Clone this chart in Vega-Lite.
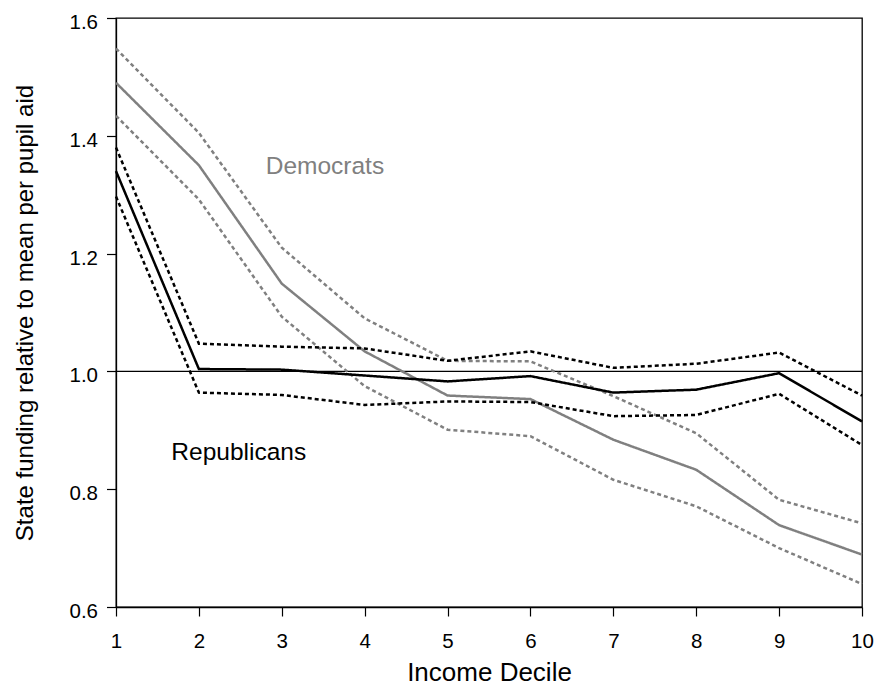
{
  "$schema": "https://vega.github.io/schema/vega-lite/v6.json",
  "width": 746,
  "height": 589,
  "autosize": {"type": "none"},
  "padding": {"left": 116, "top": 18, "right": 13, "bottom": 78},
  "background": "white",
  "config": {
    "font": "Liberation Sans",
    "view": {"stroke": "black", "strokeWidth": 1.3},
    "axis": {
      "grid": false,
      "domainColor": "black",
      "domainWidth": 1.3,
      "tickColor": "black",
      "tickWidth": 1.2,
      "tickSize": 9,
      "labelColor": "black",
      "titleColor": "black",
      "labelFont": "Liberation Sans",
      "titleFont": "Liberation Sans",
      "titleFontWeight": "normal",
      "labelFontSize": 20.5,
      "titleFontSize": 24
    }
  },
  "data": {
    "values": [
      {"decile": 1, "party": "Democrats", "series": "estimate", "value": 1.490},
      {"decile": 2, "party": "Democrats", "series": "estimate", "value": 1.350},
      {"decile": 3, "party": "Democrats", "series": "estimate", "value": 1.149},
      {"decile": 4, "party": "Democrats", "series": "estimate", "value": 1.034},
      {"decile": 5, "party": "Democrats", "series": "estimate", "value": 0.959},
      {"decile": 6, "party": "Democrats", "series": "estimate", "value": 0.953},
      {"decile": 7, "party": "Democrats", "series": "estimate", "value": 0.884},
      {"decile": 8, "party": "Democrats", "series": "estimate", "value": 0.833},
      {"decile": 9, "party": "Democrats", "series": "estimate", "value": 0.739},
      {"decile": 10, "party": "Democrats", "series": "estimate", "value": 0.689},
      {"decile": 1, "party": "Democrats", "series": "upper", "value": 1.548},
      {"decile": 2, "party": "Democrats", "series": "upper", "value": 1.405},
      {"decile": 3, "party": "Democrats", "series": "upper", "value": 1.210},
      {"decile": 4, "party": "Democrats", "series": "upper", "value": 1.090},
      {"decile": 5, "party": "Democrats", "series": "upper", "value": 1.018},
      {"decile": 6, "party": "Democrats", "series": "upper", "value": 1.017},
      {"decile": 7, "party": "Democrats", "series": "upper", "value": 0.958},
      {"decile": 8, "party": "Democrats", "series": "upper", "value": 0.895},
      {"decile": 9, "party": "Democrats", "series": "upper", "value": 0.782},
      {"decile": 10, "party": "Democrats", "series": "upper", "value": 0.742},
      {"decile": 1, "party": "Democrats", "series": "lower", "value": 1.434},
      {"decile": 2, "party": "Democrats", "series": "lower", "value": 1.292},
      {"decile": 3, "party": "Democrats", "series": "lower", "value": 1.093},
      {"decile": 4, "party": "Democrats", "series": "lower", "value": 0.975},
      {"decile": 5, "party": "Democrats", "series": "lower", "value": 0.901},
      {"decile": 6, "party": "Democrats", "series": "lower", "value": 0.890},
      {"decile": 7, "party": "Democrats", "series": "lower", "value": 0.816},
      {"decile": 8, "party": "Democrats", "series": "lower", "value": 0.771},
      {"decile": 9, "party": "Democrats", "series": "lower", "value": 0.700},
      {"decile": 10, "party": "Democrats", "series": "lower", "value": 0.639},
      {"decile": 1, "party": "Republicans", "series": "estimate", "value": 1.340},
      {"decile": 2, "party": "Republicans", "series": "estimate", "value": 1.004},
      {"decile": 3, "party": "Republicans", "series": "estimate", "value": 1.003},
      {"decile": 4, "party": "Republicans", "series": "estimate", "value": 0.993},
      {"decile": 5, "party": "Republicans", "series": "estimate", "value": 0.983},
      {"decile": 6, "party": "Republicans", "series": "estimate", "value": 0.992},
      {"decile": 7, "party": "Republicans", "series": "estimate", "value": 0.964},
      {"decile": 8, "party": "Republicans", "series": "estimate", "value": 0.969},
      {"decile": 9, "party": "Republicans", "series": "estimate", "value": 0.997},
      {"decile": 10, "party": "Republicans", "series": "estimate", "value": 0.915},
      {"decile": 1, "party": "Republicans", "series": "upper", "value": 1.380},
      {"decile": 2, "party": "Republicans", "series": "upper", "value": 1.047},
      {"decile": 3, "party": "Republicans", "series": "upper", "value": 1.042},
      {"decile": 4, "party": "Republicans", "series": "upper", "value": 1.039},
      {"decile": 5, "party": "Republicans", "series": "upper", "value": 1.018},
      {"decile": 6, "party": "Republicans", "series": "upper", "value": 1.034},
      {"decile": 7, "party": "Republicans", "series": "upper", "value": 1.006},
      {"decile": 8, "party": "Republicans", "series": "upper", "value": 1.013},
      {"decile": 9, "party": "Republicans", "series": "upper", "value": 1.032},
      {"decile": 10, "party": "Republicans", "series": "upper", "value": 0.959},
      {"decile": 1, "party": "Republicans", "series": "lower", "value": 1.297},
      {"decile": 2, "party": "Republicans", "series": "lower", "value": 0.964},
      {"decile": 3, "party": "Republicans", "series": "lower", "value": 0.960},
      {"decile": 4, "party": "Republicans", "series": "lower", "value": 0.943},
      {"decile": 5, "party": "Republicans", "series": "lower", "value": 0.949},
      {"decile": 6, "party": "Republicans", "series": "lower", "value": 0.948},
      {"decile": 7, "party": "Republicans", "series": "lower", "value": 0.924},
      {"decile": 8, "party": "Republicans", "series": "lower", "value": 0.926},
      {"decile": 9, "party": "Republicans", "series": "lower", "value": 0.962},
      {"decile": 10, "party": "Republicans", "series": "lower", "value": 0.875}
    ]
  },
  "encoding": {
    "x": {
      "field": "decile",
      "type": "quantitative",
      "scale": {"domain": [1, 10], "nice": false, "zero": false},
      "axis": {
        "title": "Income Decile",
        "values": [1, 2, 3, 4, 5, 6, 7, 8, 9, 10],
        "format": "d",
        "labelBaseline": "alphabetic",
        "labelPadding": 31,
        "labelFlush": false,
        "titleBaseline": "alphabetic",
        "titleY": 73,
        "titleFontSize": 26
      }
    },
    "y": {
      "field": "value",
      "type": "quantitative",
      "scale": {"domain": [0.6, 1.6], "nice": false, "zero": false},
      "axis": {
        "title": "State funding relative to mean per pupil aid",
        "values": [0.6, 0.8, 1.0, 1.2, 1.4, 1.6],
        "format": ".1f",
        "tickSize": 9.5,
        "labelPadding": 9,
        "labelBaseline": "alphabetic",
        "labelOffset": 10.5,
        "labelFlush": false,
        "titleBaseline": "alphabetic",
        "titleX": -83.5,
        "titleFontSize": 24
      }
    }
  },
  "layer": [
    {
      "data": {"values": [{"ref": 1.0}]},
      "mark": {"type": "rule", "color": "black", "strokeWidth": 1.3},
      "encoding": {"y": {"field": "ref", "type": "quantitative"}, "x": null}
    },
    {
      "transform": [{"filter": "datum.party === 'Democrats'"}],
      "mark": {"type": "line", "strokeWidth": 2.5},
      "encoding": {
        "detail": {"field": "series"},
        "color": {"field": "party", "type": "nominal", "scale": {"domain": ["Democrats", "Republicans"], "range": ["#808080", "#000000"]}, "legend": null},
        "strokeDash": {"field": "series", "type": "nominal", "scale": {"domain": ["estimate", "upper", "lower"], "range": [[1, 0], [4, 3], [4, 3]]}, "legend": null}
      }
    },
    {
      "transform": [{"filter": "datum.party === 'Republicans'"}],
      "mark": {"type": "line", "strokeWidth": 2.5},
      "encoding": {
        "detail": {"field": "series"},
        "color": {"field": "party", "type": "nominal", "scale": {"domain": ["Democrats", "Republicans"], "range": ["#808080", "#000000"]}, "legend": null},
        "strokeDash": {"field": "series", "type": "nominal", "scale": {"domain": ["estimate", "upper", "lower"], "range": [[1, 0], [4, 3], [4, 3]]}, "legend": null}
      }
    },
    {
      "data": {"values": [
        {"label": "Democrats", "lx": 2.806, "ly": 1.335, "party": "Democrats"},
        {"label": "Republicans", "lx": 1.668, "ly": 0.849, "party": "Republicans"}
      ]},
      "mark": {"type": "text", "align": "left", "baseline": "alphabetic", "fontSize": 24.5, "font": "Liberation Sans"},
      "encoding": {
        "x": {"field": "lx", "type": "quantitative"},
        "y": {"field": "ly", "type": "quantitative"},
        "text": {"field": "label"},
        "color": {"field": "party", "type": "nominal", "scale": {"domain": ["Democrats", "Republicans"], "range": ["#808080", "#000000"]}, "legend": null}
      }
    }
  ]
}
